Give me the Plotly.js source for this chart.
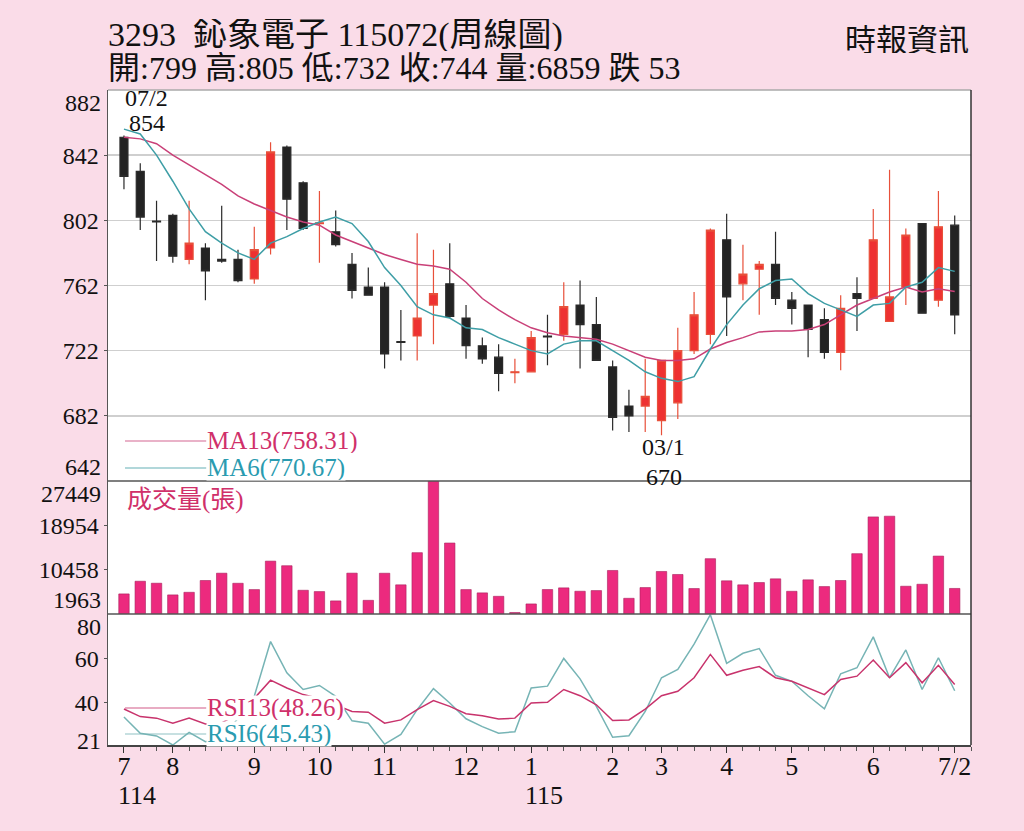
<!DOCTYPE html>
<html><head><meta charset="utf-8">
<script src="https://cdn.plot.ly/plotly-3.0.1.min.js"></script>
<style>html,body{margin:0;padding:0;background:#FADCE8;}#chart{width:1024px;height:831px;}</style>
</head><body><div id="chart"></div>
<script>
// ---- data ----
const weekIndex = [0,1,2,3,4,5,6,7,8,9,10,11,12,13,14,15,16,17,18,19,20,21,22,23,24,25,26,27,28,29,30,31,32,33,34,35,36,37,38,39,40,41,42,43,44,45,46,47,48,49,50,51];
const openP  = [853,832,801.5,805,778,785,778,778,766,785,847,825,800,795,775,761,761,727.5,731,750,763,742,725,718,708.5,709,731,732,750,738,712,688,688,679,690,722,732,790,763,772,775,753,750,741,721,757,754,740,761,800,753,799];
const highP  = [854,837,814,806,814,788,811,784,798,850,848,826,820,808,782,773,764,747,794,784,788,750,730,726,717,734,744,764,765,755,716,698,717,716,736,758,797,806,787,777,795,758,750,748,756,767,809,833,797,800,820,805];
const lowP   = [821,796,777,776,775,753,776,764,763,781,796,796,776,786,754,756,711,716,716,726,742,717,714,697,702,709,713,728,711,716,673,672,672,670,680,720,726,731,753,744,750,738,718,717,710,734,754,740,750,745,749,732];
const closeP = [829,804,801,780,788,771,777,765,784,844,815,797,800.5,787,759,756,720,727,742,757,743,725,717,708,709,730,730.5,749,738,716,681,682,694,716,722,744,796,755,769,775,754,748,735,721,748,754,790,755,793,745,798,744];
const ma13 = [853,852,849,842,836,830,824,817,812,808,804,801,799,793,789,785,781,778,775,774,772,764,754,747,741,736,733,731,730,729,726,722,718,716,716,717,723,727,730,733.5,734,734,735,738,744,750,754,758,761,758,760,758.31];
const ma6  = [858,855,842,826,809,795,788,782,778,788,792,797,801,804,800,789,773,762,749,744,742,736,735,730,726,722,720,726,728,728,722,716,709,705,703,706,723,738,750,760,765,766,757,751,747,743,750,751,761,764,773,770.67];
const volume = [5810,8240,7860,5620,6120,8380,9780,7850,6640,12090,11210,6510,6260,4470,9790,4580,9770,7550,13710,27449,15560,6640,6010,5350,2250,3890,6650,6970,6320,6450,10300,4970,7030,10110,9530,6840,12560,8320,7550,7990,8700,6310,8510,7220,8380,13520,20570,20700,7280,7660,13060,6859];
const rsi13 = [37.2,33.8,33.1,30.8,33.1,30.5,31,35,42,50.2,46.7,43.7,42,39.2,36.1,35.8,30.8,32.3,36.9,41,38.4,35.1,34.2,32.7,33.1,39.9,40.2,46,43.2,39.1,32,32.3,37.2,43.2,45.2,51.3,61.8,52.4,54.7,56.3,51.3,49.7,46.7,43.7,50.5,52,59.3,51.3,58.1,49,56.9,48.26];
const rsi6  = [33.6,26.3,25.1,21,26.7,22.5,24,33,43,67.6,53.5,46,47.8,42.9,31.9,30.8,21.4,25.8,36.9,46.4,39.9,32.8,29.3,26.3,27,46.7,47.5,60,50.8,38.4,24.5,25.2,36.1,51.3,55,66.4,79.7,57.8,62.3,64.4,52.4,49.7,43.2,37.3,53.1,55.8,69.7,51.3,63.8,46,60.3,45.43];

const monthTickIdx  = [0,3,8,12,16,21,25,30,33,37,41,46,51];
const monthTickText = ['7','8','9','10','11','12','1','2','3','4','5','6','7/2'];
const yearLabels = [{idx:0, text:'114'},{idx:25, text:'115'}];
const priceTicks = [882,842,802,762,722,682,642];
const volTicks   = [27449,18954,10458,1963];
const rsiTicks   = [80,60,40,21];
const peakDate = '07/2', troughDate = '03/1';
const titleLine1 = '3293\u00a0\u00a0鈊象電子 115072(周線圖)';
const titleLine2 = '開:799 高:805 低:732 收:744 量:6859 跌 53';
const sourceText = '時報資訊';
const volTitle = '成交量(張)';
const ma13Label = 'MA13(758.31)', ma6Label = 'MA6(770.67)';
const rsi13Label = 'RSI13(48.26)', rsi6Label = 'RSI6(45.43)';

// ---- styling ----
const SERIF = '"Liberation Serif","Times New Roman","Noto Sans CJK TC",serif';
const C_MA13 = '#C94078', C_MA6 = '#3E9EA6';
const C_RSI13 = '#C8336C', C_RSI6 = '#76B4B5';
const C_TXT_MAG = '#D0306A', C_TXT_TEAL = '#2A9BB0';
const D_PRICE = [0.4031, 1], D_VOL = [0.2, 0.4031], D_RSI = [0, 0.2];

const traces = [
  {type:'candlestick', x:weekIndex, open:openP, high:highP, low:lowP, close:closeP,
   xaxis:'x', yaxis:'y', whiskerwidth:0,
   increasing:{line:{color:'#E8503A', width:1.2}, fillcolor:'#EE3131'},
   decreasing:{line:{color:'#2a2a2a', width:1.2}, fillcolor:'#232323'},
   hoverinfo:'skip', showlegend:false},
  {type:'scatter', mode:'lines', x:weekIndex, y:ma13, xaxis:'x', yaxis:'y',
   line:{color:C_MA13, width:1.5}, hoverinfo:'skip', showlegend:false},
  {type:'scatter', mode:'lines', x:weekIndex, y:ma6, xaxis:'x', yaxis:'y',
   line:{color:C_MA6, width:1.5}, hoverinfo:'skip', showlegend:false},
  {type:'bar', x:weekIndex, y:volume, xaxis:'x', yaxis:'y2', width:0.64,
   marker:{color:'#EC2A7E', line:{color:'#A8205C', width:0.6}}, hoverinfo:'skip', showlegend:false},
  {type:'scatter', mode:'lines', x:weekIndex, y:rsi6, xaxis:'x', yaxis:'y3',
   line:{color:C_RSI6, width:1.5}, hoverinfo:'skip', showlegend:false},
  {type:'scatter', mode:'lines', x:weekIndex, y:rsi13, xaxis:'x', yaxis:'y3',
   line:{color:C_RSI13, width:1.5}, hoverinfo:'skip', showlegend:false}
];

function yAxis(domain, ticks, grid) {
  const lo = Math.min(...ticks), hi = Math.max(...ticks);
  const inner = ticks.filter(t => t !== lo && t !== hi);
  return {domain, range:[lo, hi], tickmode:'array', tickvals:inner, ticktext:inner.map(String),
    showgrid:grid, gridcolor:'#CFCFCF', gridwidth:1.5, zeroline:false,
    showline:true, linecolor:'#555', linewidth:1.5, ticks:'outside', ticklen:3, tickcolor:'#555',
    tickfont:{family:SERIF, size:24, color:'#111'}, fixedrange:true};
}

const annotations = [];
function extremeLabels(ticks, yref) {
  const lo = Math.min(...ticks), hi = Math.max(...ticks);
  annotations.push({xref:'paper', x:0, xanchor:'right', xshift:-5, yref, y:hi, yanchor:'middle', yshift:-13,
    text:String(hi), showarrow:false, height:24, font:{family:SERIF, size:24, color:'#111'}});
  annotations.push({xref:'paper', x:0, xanchor:'right', xshift:-5, yref, y:lo, yanchor:'middle', yshift:(yref==='y3'?4:14),
    text:String(lo), showarrow:false, height:24, font:{family:SERIF, size:24, color:'#111'}});
}
extremeLabels(priceTicks, 'y');
extremeLabels(volTicks, 'y2');
extremeLabels(rsiTicks, 'y3');

// peak / trough labels
const peakI = highP.indexOf(Math.max(...highP));
const troughI = lowP.indexOf(Math.min(...lowP));
const F24 = {family:SERIF, size:24, color:'#111'};
annotations.push({x:peakI, y:highP[peakI], xref:'x', yref:'y', text:peakDate, showarrow:false, height:24, borderpad:0,
  font:F24, xshift:23, yshift:38, yanchor:'middle'});
annotations.push({x:peakI, y:highP[peakI], xref:'x', yref:'y', text:String(highP[peakI]), showarrow:false, height:24, borderpad:0,
  font:F24, xshift:23, yshift:13, yanchor:'middle'});
annotations.push({x:troughI, y:lowP[troughI], xref:'x', yref:'y', text:troughDate, showarrow:false, height:24, borderpad:0,
  font:F24, xshift:2, yshift:-12, yanchor:'middle'});
annotations.push({x:troughI, y:lowP[troughI], xref:'x', yref:'y', text:String(lowP[troughI]), showarrow:false, height:24, borderpad:0,
  font:F24, xshift:2, yshift:-42, yanchor:'middle'});

// year labels under the x axis
yearLabels.forEach(l => annotations.push({x:l.idx, xref:'x', xanchor:'left', xshift:-7, yref:'paper', y:-0.0763, yanchor:'middle',
  text:l.text, showarrow:false, height:24, borderpad:0, font:{family:SERIF, size:26, color:'#111'}}));

// titles
annotations.push({xref:'paper', yref:'paper', x:-0.001, y:1.084, xanchor:'left', yanchor:'middle', text:titleLine1, showarrow:false,
  height:32, borderpad:0, font:{family:SERIF, size:34, color:'#111'}});
annotations.push({xref:'paper', yref:'paper', x:-0.001, y:1.0336, xanchor:'left', yanchor:'middle', text:titleLine2, showarrow:false,
  height:31, borderpad:0, font:{family:SERIF, size:32, color:'#111'}});
annotations.push({xref:'paper', yref:'paper', x:0.9988, y:1.081, xanchor:'right', yanchor:'middle', text:sourceText, showarrow:false,
  height:32, borderpad:0, font:{family:'"Noto Sans CJK TC",sans-serif', size:31, color:'#111'}});
annotations.push({xref:'paper', yref:'paper', x:0.0197, y:0.374, xanchor:'left', yanchor:'middle', text:volTitle, showarrow:false,
  font:{family:SERIF, size:25, color:C_TXT_MAG}});

// in-chart legends
const legends = [
  {y:0.4641, text:ma13Label, line:C_MA13, color:C_TXT_MAG},
  {y:0.4229, text:ma6Label,  line:C_MA6,  color:C_TXT_TEAL},
  {y:0.0565, text:rsi13Label, line:C_RSI13, color:C_TXT_MAG},
  {y:0.0168, text:rsi6Label,  line:C_RSI6,  color:C_TXT_TEAL}
];
const shapes = [];
legends.forEach(g => {
  shapes.push({type:'line', xref:'paper', yref:'paper', x0:0.0197, x1:0.114, y0:g.y, y1:g.y, line:{color:g.line, width:1.2}, opacity:0.8});
  annotations.push({xref:'paper', yref:'paper', x:0.114, y:g.y, xanchor:'left', yanchor:'middle', text:g.text, showarrow:false,
    bgcolor:'#FFFFFF', borderpad:0, height:24, font:{family:SERIF, size:25, color:g.color}});
});

// frame lines
shapes.push({type:'line', xref:'paper', yref:'paper', x0:0, x1:1, y0:1, y1:1, line:{color:'#AAAAAA', width:1.5}});
shapes.push({type:'line', xref:'paper', yref:'paper', x0:0, x1:1, y0:D_VOL[1], y1:D_VOL[1], line:{color:'#555', width:1.5}});
shapes.push({type:'line', xref:'paper', yref:'paper', x0:0, x1:1, y0:D_RSI[1], y1:D_RSI[1], line:{color:'#555', width:1.5}});
shapes.push({type:'line', xref:'paper', yref:'paper', x0:1, x1:1, y0:0, y1:1, line:{color:'#333', width:1.5}});

const layout = {
  width:1024, height:831,
  margin:{l:108, r:53, t:90, b:86},
  paper_bgcolor:'#FADCE8', plot_bgcolor:'#FFFFFF',
  showlegend:false,
  xaxis:{domain:[0,1], range:[-0.98, 52.0], anchor:'y3', tickmode:'array', tickvals:monthTickIdx, ticktext:monthTickText,
    ticks:'outside', ticklen:6, tickcolor:'#333', showline:true, linecolor:'#444', linewidth:1.5,
    ticklabelstandoff:-9,
    showgrid:false, zeroline:false, tickfont:{family:SERIF, size:26, color:'#111'},
    minor:{tickmode:'linear', tick0:0, dtick:1, ticks:'outside', ticklen:4, tickcolor:'#555', showgrid:false},
    rangeslider:{visible:false}, fixedrange:true},
  yaxis: yAxis(D_PRICE, priceTicks, true),
  yaxis2: yAxis(D_VOL, volTicks, false),
  yaxis3: yAxis(D_RSI, rsiTicks, false),
  bargap:0.36,
  annotations, shapes
};

Plotly.newPlot('chart', traces, layout, {staticPlot:true, displayModeBar:false});
</script></body></html>
